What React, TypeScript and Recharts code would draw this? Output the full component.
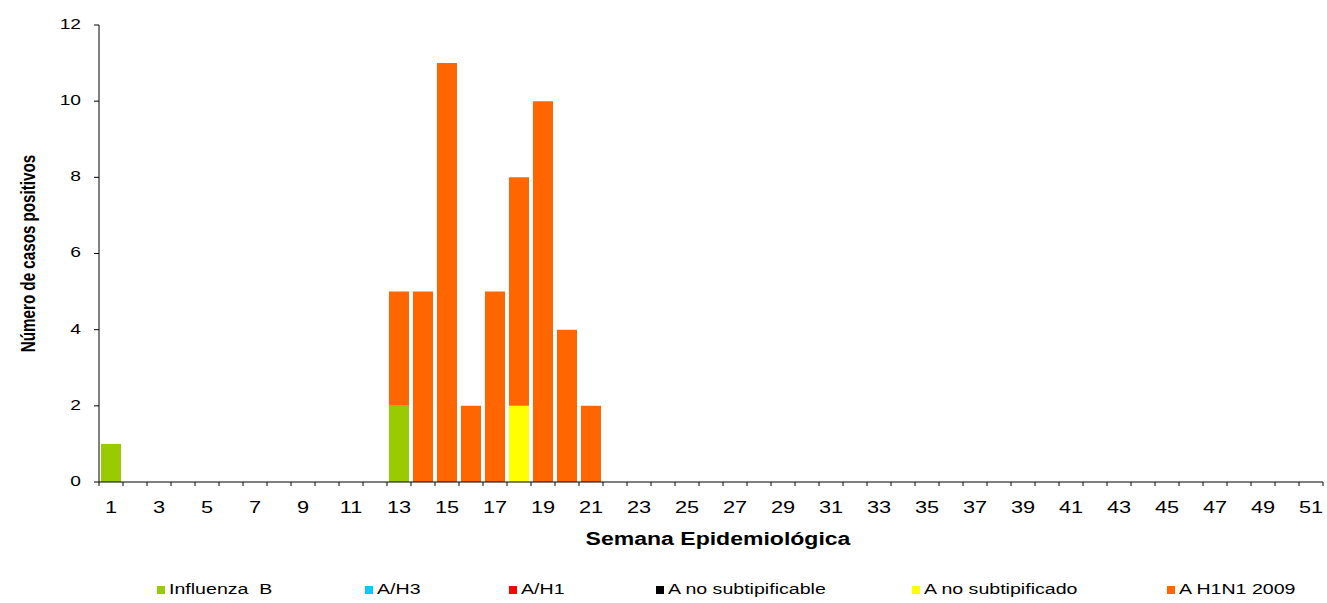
import React from 'react';
import { BarChart, Bar, XAxis, YAxis, Legend, Label } from 'recharts';

const weeks: number[] = Array.from({ length: 51 }, (_, i) => i + 1);

const influenzaB: Record<number, number> = { 1: 1, 13: 2 };
const aH3: Record<number, number> = {};
const aH1: Record<number, number> = {};
const aNoSubtipificable: Record<number, number> = {};
const aNoSubtipificado: Record<number, number> = { 18: 2 };
const aH1N12009: Record<number, number> = { 13: 3, 14: 5, 15: 11, 16: 2, 17: 5, 18: 6, 19: 10, 20: 4, 21: 2 };

const yTicks = [0, 2, 4, 6, 8, 10, 12];

const seriesDefs = [
  { key: 'influenzaB', name: 'Influenza  B', color: '#99CC00', values: influenzaB },
  { key: 'aH3', name: 'A/H3', color: '#00CCFF', values: aH3 },
  { key: 'aH1', name: 'A/H1', color: '#FF0000', values: aH1 },
  { key: 'aNoSubtipificable', name: 'A no subtipificable', color: '#000000', values: aNoSubtipificable },
  { key: 'aNoSubtipificado', name: 'A no subtipificado', color: '#FFFF00', values: aNoSubtipificado },
  { key: 'aH1N12009', name: 'A H1N1 2009', color: '#FF6600', values: aH1N12009 },
];

const data = weeks.map((w) => {
  const row: Record<string, number | string> = { week: String(w) };
  seriesDefs.forEach((s) => {
    row[s.key] = s.values[w] ?? 0;
  });
  return row;
});

const FONT = 'Liberation Sans, Arial, sans-serif';
const STRETCH = 1.28;

const XTick = (props: any) => {
  const { x, y, index, width } = props;
  const band = width / weeks.length;
  const left = x - band / 2;
  const isLast = index === weeks.length - 1;
  const showLabel = index % 2 === 0;
  return (
    <g>
      <line x1={left} y1={y} x2={left} y2={y + 4} stroke="#000" strokeWidth={1} />
      {isLast && <line x1={x + band / 2} y1={y} x2={x + band / 2} y2={y + 4} stroke="#000" strokeWidth={1} />}
      {showLabel && (
        <g transform={`translate(${x},${y + 27}) scale(${STRETCH},1)`}>
          <text x={0} y={0} textAnchor="middle" dominantBaseline="middle" fontSize={17} fontFamily={FONT} fill="#000">
            {props.payload.value}
          </text>
        </g>
      )}
    </g>
  );
};

const YTick = (props: any) => {
  const { x, y, payload } = props;
  return (
    <g transform={`translate(${x},${y}) scale(${STRETCH},1)`}>
      <text x={0} y={0} textAnchor="end" dominantBaseline="middle" fontSize={15} fontFamily={FONT} fill="#000">
        {payload.value}
      </text>
    </g>
  );
};

const XTitle = (props: any) => {
  const { viewBox } = props;
  const cx = viewBox.x + viewBox.width / 2 + 7;
  const cy = viewBox.y + 58;
  return (
    <g transform={`translate(${cx},${cy}) scale(${STRETCH},1)`}>
      <text x={0} y={0} textAnchor="middle" dominantBaseline="middle" fontSize={18} fontWeight="bold" fontFamily={FONT} fill="#000">
        Semana Epidemiológica
      </text>
    </g>
  );
};

const YTitle = (props: any) => {
  const { viewBox } = props;
  const cx = 30;
  const cy = viewBox.y + viewBox.height / 2;
  return (
    <g transform={`translate(${cx},${cy}) rotate(-90) scale(1,${STRETCH})`}>
      <text x={0} y={0} textAnchor="middle" dominantBaseline="middle" fontSize={15.2} fontWeight="bold" fontFamily={FONT} fill="#000">
        Número de casos positivos
      </text>
    </g>
  );
};

const legendLefts = [157, 365, 509, 656, 912, 1167];

const LegendContent = () => (
  <svg width={1327} height={20} style={{ display: 'block' }}>
    {seriesDefs.map((s, i) => (
      <g key={s.key}>
        <rect x={legendLefts[i]} y={5} width={8} height={8} fill={s.color} />
        <g transform={`translate(${legendLefts[i] + 12},${9}) scale(${STRETCH},1)`}>
          <text x={0} y={0} dominantBaseline="middle" fontSize={15.3} fontFamily={FONT} fill="#000" style={{ whiteSpace: 'pre' }}>
            {s.name}
          </text>
        </g>
      </g>
    ))}
  </svg>
);

export default function App() {
  return (
    <div style={{ position: 'absolute', left: 0, top: 0, width: 1327, height: 603, background: '#fff' }}>
      <BarChart
        width={1327}
        height={603}
        data={data}
        margin={{ top: 25, right: 4, left: 0, bottom: 31 }}
        barCategoryGap="8.3%"
      >
        <XAxis
          dataKey="week"
          interval={0}
          height={70}
          tickSize={0}
          tickMargin={0}
          tickLine={false}
          axisLine={{ stroke: '#000' }}
          tick={<XTick />}
        >
          <Label content={<XTitle />} />
        </XAxis>
        <YAxis
          width={99}
          domain={[0, 12]}
          ticks={yTicks}
          interval={0}
          tickSize={5}
          tickMargin={13}
          axisLine={{ stroke: '#000' }}
          tickLine={{ stroke: '#000' }}
          tick={<YTick />}
        >
          <Label content={<YTitle />} />
        </YAxis>
        <Legend
          verticalAlign="bottom"
          height={20}
          content={<LegendContent />}
          wrapperStyle={{ position: 'absolute', left: 0, top: 581, width: 1327, height: 20 }}
        />
        {seriesDefs.map((s) => (
          <Bar
            key={s.key}
            dataKey={s.key}
            name={s.name}
            stackId="a"
            fill={s.color}
            isAnimationActive={false}
          />
        ))}
      </BarChart>
    </div>
  );
}
